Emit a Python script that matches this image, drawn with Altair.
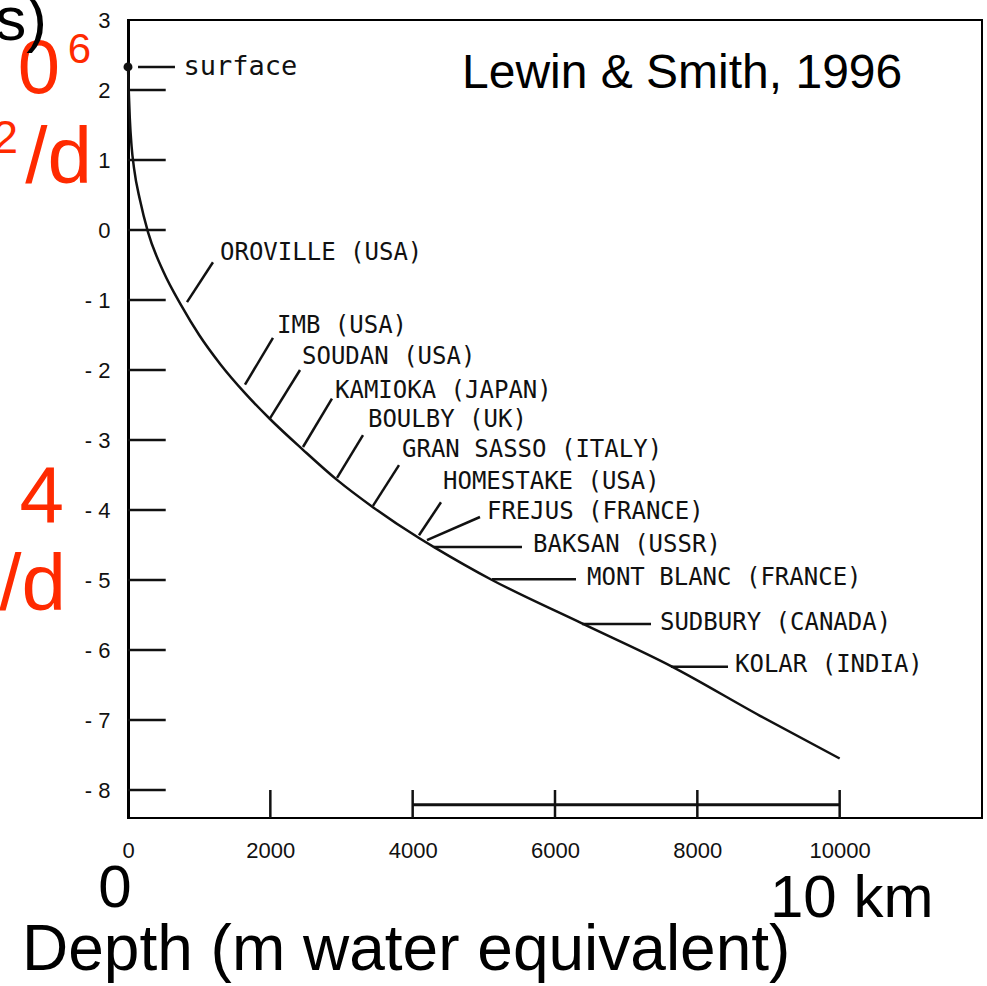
import altair as alt
import pandas as pd

# Vertical muon intensity vs. depth: depth in metres water equivalent, log10 of flux
depth_mwe = [0, 10, 25, 50, 85, 170, 281, 500, 750, 1000, 1300, 1644, 1995, 2459,
             2937, 3442, 4089, 4300, 5115, 6379, 7630, 8881, 10000]
log_flux = [2.33, 2.0, 1.6, 1.2, 0.88, 0.42, -0.03, -0.6, -1.08, -1.5, -1.92, -2.33,
            -2.7, -3.14, -3.57, -3.96, -4.40, -4.53, -5.0, -5.62, -6.23, -6.94, -7.55]

# Underground sites: leader line from the curve (x1, y1) out to the label (x2, y2)
site_names = ["surface", "OROVILLE (USA)", "IMB (USA)", "SOUDAN (USA)",
              "KAMIOKA (JAPAN)", "BOULBY (UK)", "GRAN SASSO (ITALY)",
              "HOMESTAKE (USA)", "FREJUS (FRANCE)", "BAKSAN (USSR)",
              "MONT BLANC (FRANCE)", "SUDBURY (CANADA)", "KOLAR (INDIA)"]
lead_x1 = [141, 829, 1644, 1995, 2459, 2937, 3442, 4089, 4201, 4300, 5115, 6379, 7630]
lead_y1 = [2.33, -1.03, -2.21, -2.69, -3.10, -3.54, -3.94, -4.36, -4.43, -4.53, -4.99, -5.63, -6.24]
lead_x2 = [660, 1194, 2037, 2417, 2866, 3302, 3808, 4398, 4946, 5536, 6295, 7349, 8431]
lead_y2 = [2.33, -0.46, -1.54, -2.0, -2.41, -2.93, -3.36, -3.89, -4.10, -4.53, -4.99, -5.63, -6.24]
label_x = [780, 1293, 2094, 2445, 2909, 3372, 3850, 4426, 5044, 5691, 6450, 7475, 8529]
label_y = [2.33, -0.33, -1.37, -1.81, -2.30, -2.71, -3.14, -3.60, -4.03, -4.50, -4.97, -5.61, -6.21]
label_size = [27, 24, 24, 24, 24, 24, 24, 24, 24, 24, 24, 24, 24]

# Axis furniture
y_tick_values = [2, 1, 0, -1, -2, -3, -4, -5, -6, -7, -8]
y_tick_length = 530
y_label_values = [3, 2, 1, 0, -1, -2, -3, -4, -5, -6, -7, -8]
x_tick_values = [2000, 4000, 6000, 8000, 10000]
x_label_values = [0, 2000, 4000, 6000, 8000, 10000]
scale_bar = [4000, 10000]

# Slide annotations (text, x, y, font size, colour)
notes_left = [("Lewin & Smith, 1996", 4693, 2.03, 48, "#000000"),
              ("10 km", 9021, -9.81, 60, "#000000"),
              ("Depth (m water equivalent)", -1489, -10.57, 64, "#000000")]
notes_center = [("0", -183, -9.67, 60, "#000000")]
notes_right = [("0", -955, 1.96, 76, "#ff2a00"),
               ("6", -520, 2.386, 42, "#ff2a00"),
               ("2", -1546, 1.10, 46, "#ff2a00"),
               ("/d", -506, 0.671, 80, "#ff2a00"),
               ("4", -899, -4.17, 80, "#ff2a00"),
               ("/d", -871, -5.43, 80, "#ff2a00"),
               ("s)", -1138, 2.71, 62, "#000000")]

INK = "#111111"
xs = alt.Scale(domain=[0, 12000], nice=False, zero=False)
ys = alt.Scale(domain=[-8.4, 3], nice=False, zero=False)

# One axis definition shared by every layer so the merged axes keep their labels
X_AXIS = alt.Axis(values=x_label_values, title=None, grid=False, ticks=False, tickSize=0,
                  domain=False, labelFont="Liberation Sans", labelFontSize=22,
                  labelColor=INK, labelPadding=22, labelFlush=False, labelOverlap=False,
                  labelExpr="'' + datum.value")
Y_AXIS = alt.Axis(values=y_label_values, title=None, grid=False, ticks=False, tickSize=0,
                  domain=True, domainColor="#000000", domainWidth=3,
                  labelFont="Liberation Sans", labelFontSize=22, labelColor=INK,
                  labelPadding=18, labelFlush=False, labelOverlap=False,
                  labelExpr="datum.value < 0 ? '- ' + (-datum.value) : '' + datum.value")


def X(field):
    return alt.X(field, scale=xs, axis=X_AXIS)


def Y(field):
    return alt.Y(field, scale=ys, axis=Y_AXIS)


curve_df = pd.DataFrame({"depth": depth_mwe, "flux": log_flux})
sites_df = pd.DataFrame({"name": site_names, "x1": lead_x1, "y1": lead_y1,
                         "x2": lead_x2, "y2": lead_y2, "lx": label_x, "ly": label_y,
                         "fs": label_size})
yt_df = pd.DataFrame({"v": y_tick_values, "x0": 0, "x1": y_tick_length})
xt_df = pd.DataFrame({"d": x_tick_values, "y0": -8.4, "y1": -8.0})
bar_df = pd.DataFrame({"x0": [scale_bar[0]], "x1": [scale_bar[1]], "y": [-8.21]})

curve = alt.Chart(curve_df).mark_line(color=INK, strokeWidth=2.5, interpolate="monotone").encode(
    x=X("depth:Q"), y=Y("flux:Q"),
)

surface_dot = alt.Chart(curve_df.head(1)).mark_point(filled=True, color=INK, size=80, opacity=1).encode(
    x=X("depth:Q"), y=Y("flux:Q"),
)

y_ticks = alt.Chart(yt_df).mark_rule(color=INK, strokeWidth=2.5).encode(
    x=X("x0:Q"), x2="x1:Q", y=Y("v:Q"),
)

x_ticks = alt.Chart(xt_df).mark_rule(color=INK, strokeWidth=2.5).encode(
    x=X("d:Q"), y=Y("y0:Q"), y2="y1:Q",
)

bar = alt.Chart(bar_df).mark_rule(color=INK, strokeWidth=3).encode(
    x=X("x0:Q"), x2="x1:Q", y=Y("y:Q"),
)

leaders = alt.Chart(sites_df).mark_rule(color=INK, strokeWidth=2.5).encode(
    x=X("x1:Q"), x2="x2:Q", y=Y("y1:Q"), y2="y2:Q",
)

site_labels = alt.Chart(sites_df).mark_text(
    align="left", baseline="middle", font="DejaVu Sans Mono", color=INK
).encode(
    x=X("lx:Q"), y=Y("ly:Q"), text="name:N",
    size=alt.Size("fs:Q", scale=None, legend=None),
)


def note_layer(rows, align):
    df = pd.DataFrame(rows, columns=["t", "x", "y", "s", "c"])
    return alt.Chart(df).mark_text(align=align, baseline="alphabetic",
                                   font="Liberation Sans").encode(
        x=X("x:Q"), y=Y("y:Q"), text="t:N",
        size=alt.Size("s:Q", scale=None, legend=None),
        color=alt.Color("c:N", scale=None, legend=None),
    )


chart = alt.layer(
    y_ticks, x_ticks, bar, leaders, curve, surface_dot, site_labels,
    note_layer(notes_right, "right"), note_layer(notes_left, "left"),
    note_layer(notes_center, "center"),
).properties(
    width=854, height=798,
    autosize=alt.AutoSizeParams(type="none"),
    padding={"left": 128, "top": 20, "right": 5, "bottom": 168},
    background="white",
).configure_view(
    stroke="#000000", strokeWidth=2
).configure_axis(
    labelFont="Liberation Sans", labelFontSize=22, labelColor=INK
)

chart.save("out.html", embed_options={"renderer": "svg", "actions": False})
